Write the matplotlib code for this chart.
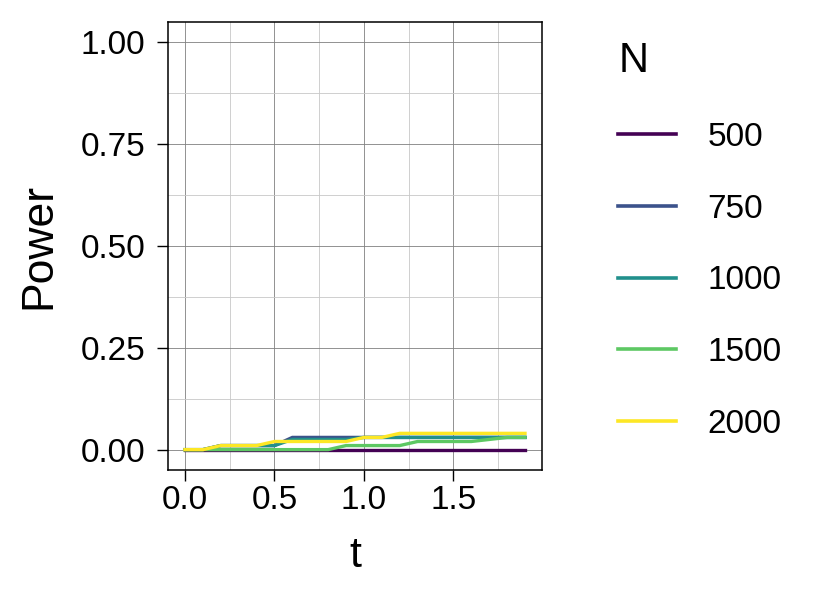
import numpy as np
import matplotlib
matplotlib.use("Agg")
import matplotlib.pyplot as plt
from matplotlib.ticker import MultipleLocator

plt.rcParams['font.family'] = ['Liberation Sans', 'DejaVu Sans']

# -----------------------------------
# Data
# -----------------------------------
t = [0.0, 0.1, 0.2, 0.3, 0.4, 0.5, 0.6, 0.7, 0.8, 0.9,
     1.0, 1.1, 1.2, 1.3, 1.4, 1.5, 1.6, 1.7, 1.8, 1.9]
n_labels = ["500", "750", "1000", "1500", "2000"]

power_500 = [0.0] * 20
power_750 = [0.0, 0.0, 0.01, 0.01, 0.01, 0.01, 0.03, 0.03, 0.03, 0.03,
             0.03, 0.03, 0.03, 0.03, 0.03, 0.03, 0.03, 0.03, 0.03, 0.03]
power_1000 = [0.0, 0.0, 0.01, 0.01, 0.01, 0.01, 0.025, 0.025, 0.025, 0.025,
              0.03, 0.03, 0.03, 0.03, 0.03, 0.03, 0.03, 0.03, 0.03, 0.03]
power_1500 = [0.0, 0.0, 0.0, 0.0, 0.0, 0.0, 0.0, 0.0, 0.0, 0.01,
              0.01, 0.01, 0.01, 0.02, 0.02, 0.02, 0.02, 0.025, 0.03, 0.03]
power_2000 = [0.0, 0.0, 0.01, 0.01, 0.01, 0.02, 0.02, 0.02, 0.02, 0.02,
              0.03, 0.03, 0.04, 0.04, 0.04, 0.04, 0.04, 0.04, 0.04, 0.04]

series = [power_500, power_750, power_1000, power_1500, power_2000]
colors = ["#440154", "#3B528B", "#21908C", "#5DC863", "#FDE725"]

# -----------------------------------
# Figure
# -----------------------------------
W, H = 834, 601
fig = plt.figure(figsize=(W / 100, H / 100), dpi=100)
ax = fig.add_axes([168 / W, 1 - 470 / H, (542 - 168) / W, (470 - 22) / H])

handles = []
for y, c, lab in zip(series, colors, n_labels):
    h, = ax.plot(t, y, color=c, lw=2.4, label=lab, solid_joinstyle='miter')
    handles.append(h)

ax.set_xlim(-0.095, 1.995)
ax.set_ylim(-0.05, 1.05)
ax.xaxis.set_major_locator(MultipleLocator(0.5))
ax.xaxis.set_minor_locator(MultipleLocator(0.25))
ax.yaxis.set_major_locator(MultipleLocator(0.25))
ax.yaxis.set_minor_locator(MultipleLocator(0.125))
ax.xaxis.set_major_formatter(lambda v, p: f"{v:.1f}")
ax.yaxis.set_major_formatter(lambda v, p: f"{v:.2f}")

ax.grid(which='major', color='#808080', lw=0.6)
ax.grid(which='minor', color='#c8c8c8', lw=0.6)
ax.set_axisbelow(True)

for s in ax.spines.values():
    s.set_linewidth(1.1)
    s.set_color('black')

ax.tick_params(which='major', length=8, width=1.0, labelsize=24,
               colors='black')
ax.tick_params(axis='x', which='major', pad=3)
ax.tick_params(axis='y', which='major', pad=8.5)
ax.tick_params(which='minor', length=0)

ax.set_xlabel("t", fontsize=31, labelpad=14)
ax.set_ylabel("Power", fontsize=32, labelpad=15)

leg = fig.legend(handles=handles, labels=n_labels, title="N",
                 loc='upper left', bbox_to_anchor=(605 / W, 1 - 28 / H),
                 frameon=False, fontsize=24, title_fontsize=30,
                 handlelength=1.74, handletextpad=0.93, labelspacing=1.22,
                 borderaxespad=0, borderpad=0.4)
leg._legend_box.align = "left"
for line in leg.get_lines():
    line.set_linewidth(2.6)

fig.savefig("out.png", dpi=100)
